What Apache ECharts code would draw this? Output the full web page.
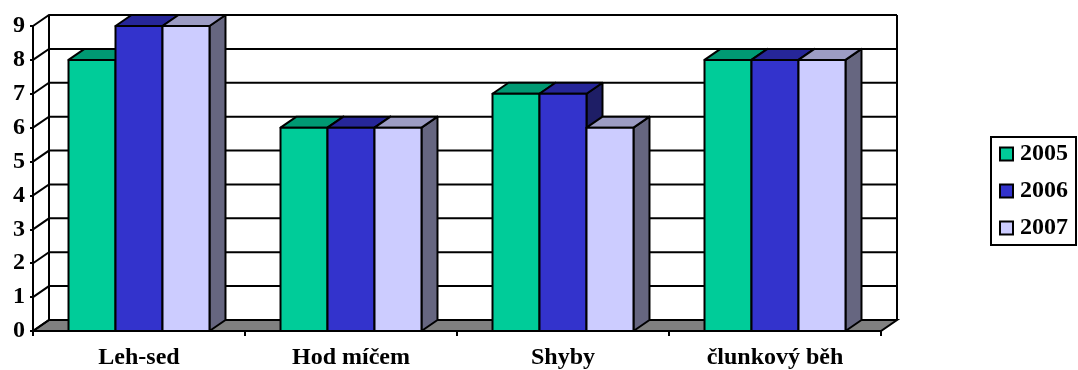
<!DOCTYPE html>
<html>
<head>
<meta charset="utf-8">
<script src="https://cdn.jsdelivr.net/npm/echarts@6/dist/echarts.min.js"></script>
<style>html,body{margin:0;padding:0;background:#fff}#c{width:1078px;height:370px}</style>
</head>
<body>
<div id="c"></div>
<script>
var categories = ['Leh-sed', 'Hod míčem', 'Shyby', 'člunkový běh'];
var seriesNames = ['2005', '2006', '2007'];
var values2005 = [8, 6, 7, 8];
var values2006 = [9, 6, 7, 8];
var values2007 = [9, 6, 6, 8];
var yTicks = [0, 1, 2, 3, 4, 5, 6, 7, 8, 9];

var FONT = "'Liberation Serif', 'Times New Roman', serif";
var DX = 16, DY = -11;
var GROUP = 0.665;
var faceColors = [
  {front: '#00CC99', top: '#009973', side: '#006650'},
  {front: '#3333CC', top: '#262699', side: '#1E1E66'},
  {front: '#CCCCFF', top: '#9C9CC4', side: '#666680'}
];
var allValues = [values2005, values2006, values2007];

function wallsRender(params, api) {
  var bw = api.size([1, 0])[0];
  var L = api.coord([0, 0])[0] - bw / 2;
  var R = api.coord([categories.length - 1, 0])[0] + bw / 2;
  var y0 = api.coord([0, 0])[1];
  var yMax = api.coord([0, yTicks[yTicks.length - 1]])[1];
  function ln() { return {fill: 'none', stroke: '#000', lineWidth: 2}; }
  var ch = [];
  ch.push({type: 'polygon', shape: {points: [[L + DX, yMax + DY], [R + DX, yMax + DY], [R + DX, y0 + DY], [L + DX, y0 + DY]]}, style: {fill: '#fff', stroke: 'none'}});
  ch.push({type: 'polygon', shape: {points: [[L, y0], [R, y0], [R + DX, y0 + DY], [L + DX, y0 + DY]]}, style: {fill: '#808080', stroke: '#000', lineWidth: 2}});
  yTicks.forEach(function (v) {
    var y = api.coord([0, v])[1];
    ch.push({type: 'polyline', shape: {points: [[L, y], [L + DX, y + DY], [R + DX, y + DY]]}, style: ln()});
  });
  ch.push({type: 'line', shape: {x1: L + DX, y1: y0 + DY, x2: L + DX, y2: yMax + DY}, style: ln()});
  ch.push({type: 'line', shape: {x1: R + DX, y1: y0 + DY, x2: R + DX, y2: yMax + DY}, style: ln()});
  return {type: 'group', children: ch};
}

function makeBarRender(s) {
  return function (params, api) {
    var ci = api.value(0), v = api.value(1);
    var bw = api.size([1, 0])[0];
    var cx = api.coord([ci, 0])[0];
    var barW = bw * GROUP / 3;
    var x0 = cx - bw * GROUP / 2 + s * barW;
    var x1 = x0 + barW;
    var yb = api.coord([ci, 0])[1];
    var yt = api.coord([ci, v])[1];
    var fc = faceColors[s];
    function st(fill) { return {fill: fill, stroke: '#000', lineWidth: 2, lineJoin: 'round'}; }
    return {type: 'group', children: [
      {type: 'polygon', shape: {points: [[x1, yt], [x1 + DX, yt + DY], [x1 + DX, yb + DY], [x1, yb]]}, style: st(fc.side)},
      {type: 'polygon', shape: {points: [[x0, yt], [x1, yt], [x1 + DX, yt + DY], [x0 + DX, yt + DY]]}, style: st(fc.top)},
      {type: 'polygon', shape: {points: [[x0, yt], [x1, yt], [x1, yb], [x0, yb]]}, style: st(fc.front)}
    ]};
  };
}

var series = [{
  type: 'custom', name: 'walls', renderItem: wallsRender, clip: false, silent: true,
  data: [[0, 0]], encode: {x: 0, y: 1}, z: 1
}];
seriesNames.forEach(function (n, s) {
  series.push({
    type: 'custom', name: n, clip: false, z: 2 + s,
    renderItem: makeBarRender(s),
    itemStyle: {color: faceColors[s].front},
    encode: {x: 0, y: 1},
    data: allValues[s].map(function (v, i) { return [i, v]; })
  });
});

var chart = echarts.init(document.getElementById('c'), null, {renderer: 'canvas'});
chart.setOption({
  animation: false,
  backgroundColor: '#fff',
  grid: {left: 33, right: 197, top: 26, bottom: 39, containLabel: false},
  xAxis: {
    type: 'category', data: categories, boundaryGap: true,
    axisLine: {show: true, lineStyle: {color: '#000', width: 2}},
    axisTick: {show: true, length: 5, lineStyle: {color: '#000', width: 2}},
    axisLabel: {color: '#000', fontFamily: FONT, fontWeight: 'bold', fontSize: 24, margin: 15},
    splitLine: {show: false}
  },
  yAxis: {
    type: 'value', min: 0, max: 9, interval: 1,
    axisLine: {show: true, lineStyle: {color: '#000', width: 2}},
    axisTick: {show: true, length: 3, lineStyle: {color: '#000', width: 2}},
    axisLabel: {color: '#000', fontFamily: FONT, fontWeight: 'bold', fontSize: 24, margin: 8},
    splitLine: {show: false}
  },
  legend: {
    data: seriesNames, orient: 'vertical', right: 2, top: 137,
    backgroundColor: '#fff', borderColor: '#000', borderWidth: 2,
    padding: [5, 8, 5, 8], itemGap: 13, itemWidth: 13, itemHeight: 13,
    icon: 'rect',
    itemStyle: {borderColor: '#000', borderWidth: 2},
    textStyle: {color: '#000', fontFamily: FONT, fontWeight: 'bold', fontSize: 24, lineHeight: 24, padding: [0, 0, 0, 2]}
  },
  series: series
});
</script>
</body>
</html>
